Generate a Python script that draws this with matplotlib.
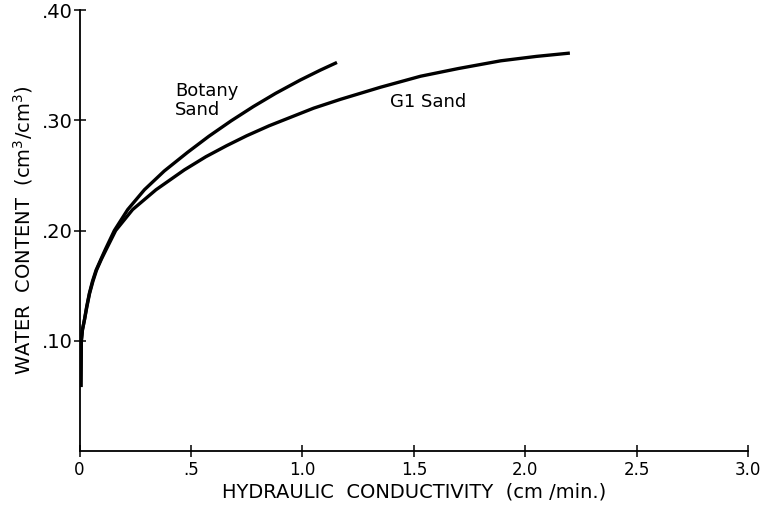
import matplotlib
matplotlib.use("Agg")
from matplotlib import pyplot as plt

# values
botany_k = [0.006, 0.007, 0.008, 0.013, 0.022, 0.032, 0.044, 0.058, 0.074, 0.096, 0.116, 0.156,
            0.216, 0.291, 0.380, 0.485, 0.58, 0.68, 0.78, 0.88, 0.99, 1.08, 1.155]
botany_theta = [0.058, 0.080, 0.100, 0.110, 0.119, 0.131, 0.143, 0.154, 0.164, 0.174, 0.183, 0.200,
                0.219, 0.237, 0.254, 0.271, 0.2855, 0.2995, 0.3125, 0.3245, 0.3365, 0.3455, 0.3525]

g1_k = [0.006, 0.007, 0.008, 0.013, 0.022, 0.033, 0.045, 0.060, 0.076, 0.098, 0.120, 0.162,
        0.238, 0.343, 0.470, 0.567, 0.66, 0.75, 0.85, 0.95, 1.05, 1.17, 1.35, 1.53, 1.70,
        1.89, 2.05, 2.20]
g1_theta = [0.058, 0.080, 0.100, 0.110, 0.119, 0.131, 0.143, 0.154, 0.164, 0.174, 0.183, 0.200,
            0.219, 0.237, 0.255, 0.267, 0.277, 0.286, 0.295, 0.303, 0.311, 0.319, 0.330, 0.340,
            0.347, 0.354, 0.358, 0.361]

x_ticks = [0, 0.5, 1.0, 1.5, 2.0, 2.5, 3.0]
x_labels = ['0', '.5', '1.0', '1.5', '2.0', '2.5', '3.0']
y_ticks = [0.10, 0.20, 0.30, 0.40]
y_labels = ['.10', '.20', '.30', '.40']

fig = plt.figure(figsize=(7.65, 5.05), dpi=100)
ax = fig.add_axes([0.104, 0.107, 0.874, 0.873])

for k, theta in [(botany_k, botany_theta), (g1_k, g1_theta)]:
    ax.plot(k, theta, color='black', lw=2.4, solid_joinstyle='round', solid_capstyle='butt')

ax.set_xlim(0, 3.0)
ax.set_ylim(0, 0.40)
ax.spines['top'].set_visible(False)
ax.spines['right'].set_visible(False)
ax.spines['left'].set_linewidth(1.3)
ax.spines['bottom'].set_linewidth(1.3)

ax.set_xticks(x_ticks)
ax.set_xticklabels(x_labels)
ax.set_yticks(y_ticks)
ax.set_yticklabels(y_labels)
ax.tick_params(axis='both', direction='inout', length=8, width=1.1)
ax.tick_params(axis='x', pad=3, labelsize=12)
ax.tick_params(axis='y', pad=1, labelsize=14)

ax.set_xlabel('HYDRAULIC  CONDUCTIVITY  (cm /min.)', fontsize=14, labelpad=3)
ax.set_ylabel('WATER  CONTENT  (cm$^3$/cm$^3$)', fontsize=14, labelpad=5)

ax.text(0.428, 0.318, 'Botany\nSand', fontsize=13, ha='left', va='center', linespacing=1.05)
ax.text(1.392, 0.3166, 'G1 Sand', fontsize=13, ha='left', va='center')

plt.savefig('out.png', dpi=100)
